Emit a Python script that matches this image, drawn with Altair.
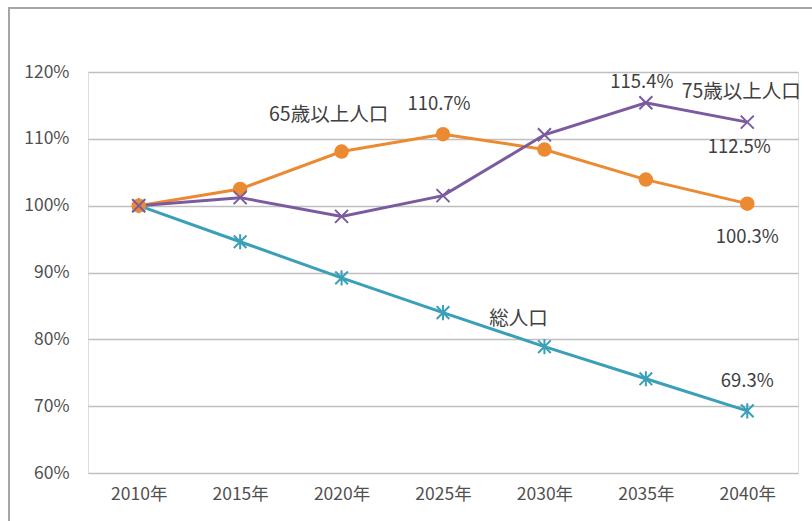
import altair as alt
import pandas as pd

years = ["2010年", "2015年", "2020年", "2025年", "2030年", "2035年", "2040年"]
total = [100.0, 94.6, 89.2, 84.0, 78.9, 74.1, 69.3]
age65 = [100.0, 102.5, 108.1, 110.7, 108.4, 103.9, 100.3]
age75 = [100.0, 101.2, 98.4, 101.5, 110.6, 115.4, 112.5]
series_names = ["総人口", "65歳以上人口", "75歳以上人口"]
colors = ["#3A9FB8", "#EB8A30", "#7B5BA0"]
y_ticks = [60, 70, 80, 90, 100, 110, 120]

rows = []
for name, vals in zip(series_names, [total, age65, age75]):
    for y, v in zip(years, vals):
        rows.append({"year": y, "series": name, "value": v})
df = pd.DataFrame(rows)

FONT = "Noto Sans CJK JP"
TXT = "#404040"
AX = "#505050"

x = alt.X("year:N", sort=years, scale=alt.Scale(domain=years, padding=0.5),
          axis=alt.Axis(title=None, labelFontSize=17.5, labelColor=AX, labelFont=FONT,
                        labelPadding=12, ticks=False, domain=False, labelAngle=0))
y = alt.Y("value:Q", scale=alt.Scale(domain=[60, 120], nice=False, zero=False),
          axis=alt.Axis(title=None, values=y_ticks, labelExpr="datum.value + '%'",
                        labelFontSize=17.5, labelColor=AX, labelFont=FONT, labelPadding=19,
                        ticks=False, domain=False, gridColor="#BFBFBF", gridWidth=1.3))
color = alt.Color("series:N", scale=alt.Scale(domain=series_names, range=colors), legend=None)

base = alt.Chart(df)
lines = base.mark_line(strokeWidth=3).encode(x=x, y=y, color=color, detail="series:N")

ASTER = "M-1,-1L1,1M1,-1L-1,1M0,-1.2L0,1.2"
XSHAPE = "M-1,-1L1,1M1,-1L-1,1"

pts_total = base.transform_filter(alt.datum.series == "総人口").mark_point(
    shape=ASTER, filled=False, size=160, strokeWidth=2, opacity=1).encode(x=x, y=y, color=color)
pts_65 = base.transform_filter(alt.datum.series == "65歳以上人口").mark_point(
    shape="circle", filled=True, size=210, opacity=1).encode(x=x, y=y, color=color)
pts_75 = base.transform_filter(alt.datum.series == "75歳以上人口").mark_point(
    shape=XSHAPE, filled=False, size=170, strokeWidth=2, opacity=1).encode(x=x, y=y, color=color)

def label(series, year, text, dx, dy):
    return base.transform_filter(
        (alt.datum.series == series) & (alt.datum.year == year)
    ).mark_text(font=FONT, fontSize=19.5, color=TXT, dx=dx, dy=dy).encode(
        x=x, y=y, text=alt.value(text))

def vlabel(series, year, dx, dy):
    return base.transform_filter(
        (alt.datum.series == series) & (alt.datum.year == year)
    ).transform_calculate(lbl="format(datum.value, '.1f') + '%'").mark_text(
        font=FONT, fontSize=18.5, color=TXT, dx=dx, dy=dy).encode(x=x, y=y, text="lbl:N")

labels = [
    vlabel("65歳以上人口", "2025年", -4, -30),
    vlabel("75歳以上人口", "2035年", -4, -21),
    vlabel("75歳以上人口", "2040年", -8, 25),
    vlabel("65歳以上人口", "2040年", 0, 33),
    vlabel("総人口", "2040年", 0, -30),
    label("65歳以上人口", "2020年", "65歳以上人口", -13, -37),
    label("75歳以上人口", "2040年", "75歳以上人口", -6, -30),
    label("総人口", "2030年", "総人口", -26, -28),
]

frame_left = alt.Chart(pd.DataFrame({"k": [0]})).mark_rule(color="#A6A6A6", strokeWidth=2).encode(
    x=alt.value(-79), y=alt.value(-64), y2=alt.value(470))
frame_top = alt.Chart(pd.DataFrame({"k": [0]})).mark_rule(color="#A6A6A6", strokeWidth=2).encode(
    x=alt.value(-80), x2=alt.value(740), y=alt.value(-64))

chart = alt.layer(frame_left, frame_top, lines, pts_total, pts_65, pts_75, *labels).properties(
    width=710, height=401, autosize=alt.AutoSizeParams(type="none"),
    padding={"left": 88, "top": 72, "right": 14, "bottom": 48}
).configure_view(stroke=None).configure(background="white")

chart.save("out.html", embed_options={"renderer": "svg", "actions": False})
